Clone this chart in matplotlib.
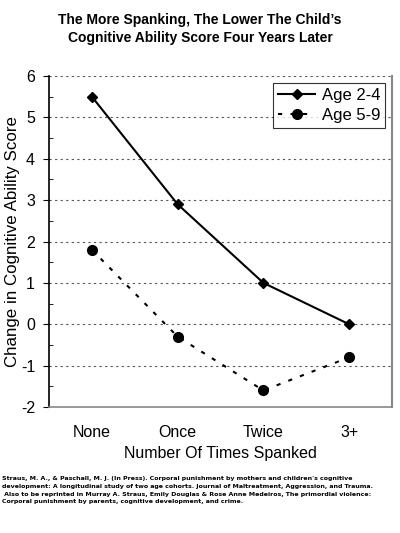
import matplotlib
matplotlib.use("Agg")
import matplotlib.pyplot as plt
from matplotlib.ticker import MultipleLocator

categories = ["None", "Once", "Twice", "3+"]
age_2_4 = [5.5, 2.9, 1.0, 0.0]
age_5_9 = [1.8, -0.3, -1.6, -0.8]
yticks = [-2, -1, 0, 1, 2, 3, 4, 5, 6]

plt.rcParams['font.family'] = ['Liberation Sans', 'DejaVu Sans']
plt.rcParams['axes.unicode_minus'] = False

fig = plt.figure(figsize=(4.0, 5.33), dpi=100)
ax = fig.add_axes([49/400, 1-407/533, (392-49)/400, (407-76)/533])

x = list(range(len(categories)))
ax.plot(x, age_2_4, '-', color='black', lw=1.5, marker='D', ms=5, label='Age 2-4')
ax.plot(x, age_5_9, linestyle=(0, (2, 4)), color='black', lw=1.5, marker='o', ms=7, label='Age 5-9')

ax.set_xlim(-0.5, 3.5)
ax.set_ylim(-2, 6)
ax.set_yticks(yticks)
ax.yaxis.set_minor_locator(MultipleLocator(0.5))
ax.tick_params(axis='y', which='major', direction='out', length=4, labelsize=11.5, pad=6)
ax.tick_params(axis='y', which='minor', direction='in', length=3)
ax.set_xticks(x)
ax.set_xticklabels(categories)
ax.tick_params(axis='x', length=0, labelsize=11.5, pad=13)
ax.yaxis.grid(True, linestyle=(0, (2, 3)), color='#555555', lw=0.8)
ax.set_axisbelow(True)
ax.spines['top'].set_visible(False)
ax.spines['right'].set_color('#888888')
ax.spines['right'].set_linewidth(1.5)
ax.spines['left'].set_linewidth(1.2)
ax.spines['bottom'].set_color('#888888')
ax.spines['bottom'].set_linewidth(1.2)

ax.set_ylabel("Change in Cognitive Ability Score", fontsize=12.2)
ax.yaxis.set_label_coords(-0.085, 0.5)
ax.set_xlabel("Number Of Times Spanked", fontsize=11.5, labelpad=4)

leg = ax.legend(loc='upper right', fontsize=12, frameon=True, fancybox=False,
                edgecolor='black', borderpad=0.3, handlelength=2.2,
                labelspacing=0.3, handletextpad=0.4, borderaxespad=0.4)
leg.get_frame().set_linewidth(0.8)

fig.text(0.5, 1-29/533, "The More Spanking, The Lower The Child\u2019s\nCognitive Ability Score Four Years Later",
         ha='center', va='center', fontsize=10, fontweight='bold', linespacing=1.4)

fig.text(0.005, 1-476/533,
         "Straus, M. A., & Paschall, M. J. (In Press). Corporal punishment by mothers and children's cognitive\n"
         "development: A longitudinal study of two age cohorts. Journal of Maltreatment, Aggression, and Trauma.\n"
         " Also to be reprinted in Murray A. Straus, Emily Douglas & Rose Anne Medeiros, The primordial violence:\n"
         "Corporal punishment by parents, cognitive development, and crime.",
         ha='left', va='top', fontsize=4.5, fontweight='bold', family=['DejaVu Sans'], linespacing=1.7)

fig.savefig("out.png", dpi=100)
